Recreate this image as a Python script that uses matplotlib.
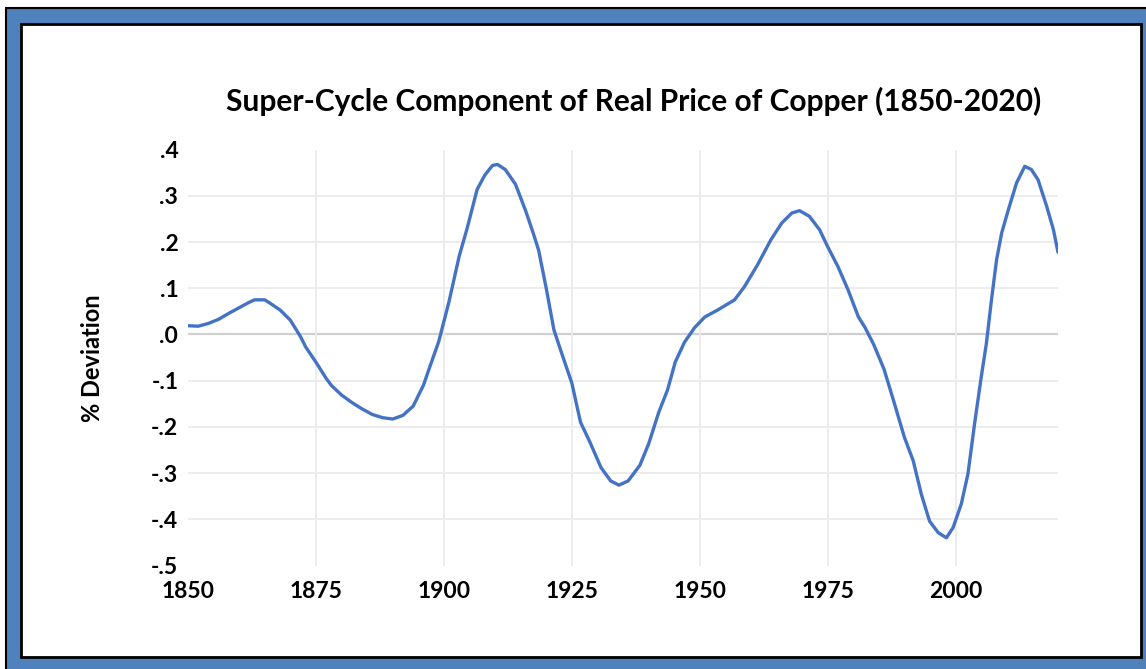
import matplotlib
matplotlib.use("Agg")
import matplotlib.pyplot as plt
from matplotlib.patches import Rectangle

# super-cycle component
years = [1850, 1852, 1854, 1856, 1858, 1860, 1862, 1863, 1865, 1866, 1868, 1870,
         1872, 1873, 1875, 1877, 1878, 1880, 1882, 1884, 1886, 1888, 1890, 1892,
         1894, 1896, 1897, 1899, 1901, 1903, 1904.5, 1906.5, 1908, 1909.5, 1910.5,
         1912, 1914, 1916, 1917.5, 1918.5, 1920, 1921.5, 1923, 1925, 1926.7, 1928.5,
         1930.7, 1932.6, 1934.2, 1936, 1938.3, 1940, 1942, 1943.7, 1945.2, 1947,
         1949, 1951, 1953.5, 1956.8, 1958.7, 1961.3, 1963.9, 1966, 1968, 1969.5,
         1971.4, 1973.4, 1975, 1977, 1979, 1981, 1982.3, 1984, 1986, 1988, 1990,
         1991.7, 1993.3, 1994.9, 1996.6, 1998.2, 1999.5, 2001.1, 2002.4, 2003.7,
         2005, 2006, 2007, 2008, 2009, 2010.3, 2011.9, 2013.5, 2014.8, 2016.1,
         2017.8, 2019.1, 2020]
deviation = [0.019, 0.018, 0.024, 0.033, 0.046, 0.058, 0.070, 0.075, 0.075, 0.068,
             0.053, 0.031, -0.005, -0.027, -0.060, -0.095, -0.110, -0.131, -0.147,
             -0.161, -0.173, -0.180, -0.183, -0.175, -0.155, -0.110, -0.078, -0.015,
             0.071, 0.170, 0.228, 0.314, 0.345, 0.366, 0.368, 0.357, 0.325, 0.267,
             0.218, 0.183, 0.100, 0.010, -0.040, -0.105, -0.190, -0.232, -0.288,
             -0.317, -0.326, -0.317, -0.283, -0.237, -0.168, -0.120, -0.060, -0.017,
             0.015, 0.038, 0.053, 0.075, 0.103, 0.151, 0.205, 0.241, 0.263, 0.268,
             0.256, 0.227, 0.190, 0.147, 0.096, 0.038, 0.015, -0.022, -0.075, -0.148,
             -0.223, -0.273, -0.346, -0.404, -0.429, -0.440, -0.418, -0.367, -0.302,
             -0.193, -0.092, -0.020, 0.075, 0.162, 0.220, 0.270, 0.328, 0.364, 0.357,
             0.335, 0.277, 0.227, 0.178]

xticks = [1850, 1875, 1900, 1925, 1950, 1975, 2000]
yticks = [-0.5, -0.4, -0.3, -0.2, -0.1, 0.0, 0.1, 0.2, 0.3, 0.4]
ytick_labels = ['-.5', '-.4', '-.3', '-.2', '-.1', '.0', '.1', '.2', '.3', '.4']

W, H = 1146, 669
plt.rcParams['font.family'] = ['Lato', 'DejaVu Sans']
fig = plt.figure(figsize=(W / 100, H / 100), dpi=100)
fig.patch.set_facecolor('white')

# blue frame of the screenshot
fig.add_artist(Rectangle((6 / W, -10 / H), 1160 / W, (H - 8 + 10) / H,
                         transform=fig.transFigure, facecolor='#4F81BD',
                         edgecolor='black', lw=1.5, zorder=0))
fig.add_artist(Rectangle((21 / W, 12 / H), (1141 - 21) / W, (645 - 12) / H,
                         transform=fig.transFigure, facecolor='white',
                         edgecolor='black', lw=2, zorder=0))

ax = fig.add_axes([188 / W, (H - 565.5) / H, 870 / W, (565.5 - 149.7) / H])
ax.set_facecolor('none')

for yv in yticks[1:-1]:
    if yv == 0:
        ax.axhline(yv, color='#d0d0d0', lw=1.6, zorder=1)
    else:
        ax.axhline(yv, color='#ebebeb', lw=1.3, zorder=1)
for xv in xticks[1:]:
    ax.axvline(xv, color='#ebebeb', lw=1.3, zorder=1)

ax.plot(years, deviation, color='#4472C4', lw=2.4, zorder=3,
        solid_joinstyle='round', solid_capstyle='round')

ax.set_xlim(1850, 2020)
ax.set_ylim(-0.5, 0.4)
ax.set_xticks(xticks)
ax.set_yticks(yticks)
ax.set_yticklabels(ytick_labels)
for s in ax.spines.values():
    s.set_visible(False)
ax.tick_params(length=0, labelsize=16.5, pad=7)
ax.tick_params(axis='x', pad=11)
for lab in ax.get_xticklabels() + ax.get_yticklabels():
    lab.set_fontweight('bold')

fig.text(92 / W, 1 - 358 / H, '% Deviation', rotation=90, ha='center', va='center',
         fontsize=17, fontweight='bold')

fig.text(634 / W, 1 - 101 / H, 'Super-Cycle Component of Real Price of Copper (1850-2020)',
         ha='center', va='center', fontsize=21.5, fontweight='bold')

plt.savefig('out.png', dpi=100)
